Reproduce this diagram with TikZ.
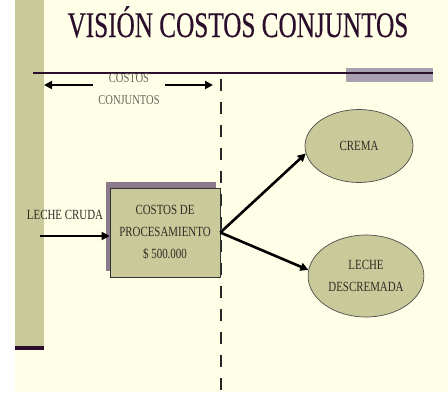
\documentclass[tikz,border=0pt]{standalone}
\usepackage{fontspec}
\setmainfont[FakeStretch=0.78]{Liberation Serif}
\newfontfamily\titlefont[FakeStretch=0.7,FakeBold=0.4]{Liberation Serif}
\usetikzlibrary{arrows.meta,shadows,shapes.geometric}
\definecolor{cream}{HTML}{FFFFE8}
\definecolor{olive}{HTML}{C9C99A}
\definecolor{plum}{HTML}{2B0E2B}
\definecolor{lavgray}{HTML}{A9A1B2}
\definecolor{shade}{HTML}{8A7A8C}
\definecolor{ink}{HTML}{2E2E26}
\definecolor{faint}{HTML}{66665A}
\tikzset{
  txt/.style={font=\fontsize{14}{22}\selectfont,text=ink,align=center},
  flow/.style={line width=2.6pt,-{Triangle[length=8pt,width=8pt]}},
  product/.style={ellipse,draw=black!70,line width=0.7pt,fill=olive,txt},
}
\begin{document}
\begin{tikzpicture}[x=1pt,y=-1pt]
  \useasboundingbox (0,0) rectangle (448,392);
  \fill[cream] (15,0) rectangle (448,392);
  \fill[olive] (15,0) rectangle (44,347);
  \fill[plum] (15,346) rectangle (44,350);
  \fill[lavgray] (346,68) rectangle (433,82);
  \draw[plum,line width=2.2pt] (33,73) -- (433,73);
  \node[anchor=base,font=\titlefont\fontsize{36}{40}\selectfont,text=plum] (title) at (238,37) {VISIÓN COSTOS CONJUNTOS};
  \draw[black!85,line width=2.4pt,dash pattern=on 12pt off 11pt] (221,79) -- (221,392);
  \node[txt,text=faint,font=\fontsize{13.5}{22}\selectfont] (joint) at (129,89) {COSTOS\\CONJUNTOS};
  \coordinate (jointL) at (44,85);
  \coordinate (jointR) at (213,85);
  \draw[flow] (joint.west |- jointL) ++(-2,0) -- (jointL);
  \draw[flow] (joint.east |- jointR) ++(2,0) -- (jointR);
  \node[txt,draw=black!80,line width=0.7pt,fill=olive,minimum width=110pt,minimum height=89pt,
        drop shadow={shadow xshift=-4pt,shadow yshift=6pt,fill=shade,opacity=1}] (proc) at (165,232.5)
        {COSTOS DE\\PROCESAMIENTO\\\$ 500.000};
  \node[txt,anchor=base] (raw) at (65,219) {LECHE CRUDA};
  \coordinate (rawin) at (40,236);
  \draw[flow] (rawin) -- (proc.west |- rawin);
  \node[product,minimum width=108pt,minimum height=73pt] (cream) at (359,146) {CREMA};
  \node[product,minimum width=108pt,minimum height=82pt] (skim) at (366,276) {LECHE\\DESCREMADA};
  \draw[flow] (proc.east) -- (cream.188);
  \draw[flow] (proc.east) -- (skim.174);
\end{tikzpicture}
\end{document}
